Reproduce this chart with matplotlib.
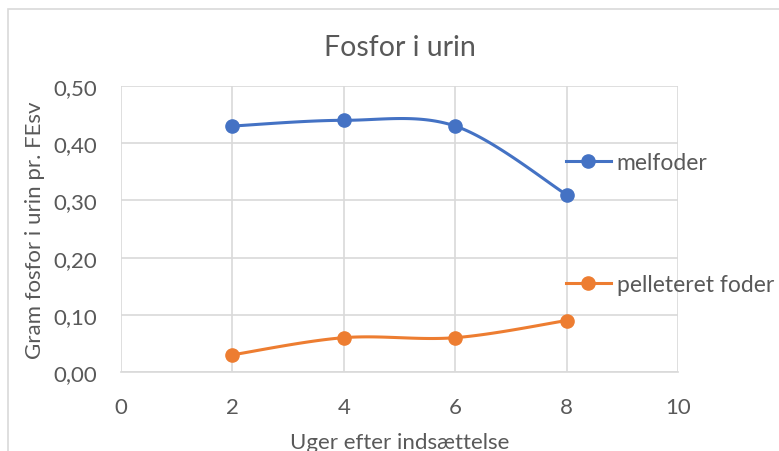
import numpy as np
import matplotlib.pyplot as plt
from matplotlib.patches import Rectangle
from matplotlib.lines import Line2D
from matplotlib.ticker import FuncFormatter

plt.rcParams['font.family'] = ['Lato', 'DejaVu Sans']

uger = [2, 4, 6, 8]
melfoder = [0.43, 0.44, 0.43, 0.31]
pelleteret = [0.03, 0.06, 0.06, 0.09]
serie_navne = ["melfoder", "pelleteret foder"]

blue = "#4472C4"
orange = "#ED7D31"
txt = "#595959"
grid = "#D9D9D9"


def smooth(x, y, n=40):
    # excel-like smoothing (catmull-rom as cubic bezier)
    x = np.asarray(x, float)
    y = np.asarray(y, float)
    px = np.concatenate([[x[0]], x, [x[-1]]])
    py = np.concatenate([[y[0]], y, [y[-1]]])
    xs, ys = [], []
    t = np.linspace(0, 1, n)
    for i in range(1, len(px) - 2):
        p0 = np.array([px[i], py[i]])
        p3 = np.array([px[i + 1], py[i + 1]])
        c1 = p0 + (p3 - np.array([px[i - 1], py[i - 1]])) / 6
        c2 = p3 - (np.array([px[i + 2], py[i + 2]]) - p0) / 6
        b = ((1 - t) ** 3)[:, None] * p0 + (3 * (1 - t) ** 2 * t)[:, None] * c1 \
            + (3 * (1 - t) * t ** 2)[:, None] * c2 + (t ** 3)[:, None] * p3
        xs.extend(b[:, 0])
        ys.extend(b[:, 1])
    return xs, ys


fig = plt.figure(figsize=(7.79, 4.52), dpi=100)
ax = fig.add_axes([121 / 779, 1 - 373 / 452, 557 / 779, 286 / 452])

fig.patches.append(Rectangle((8 / 779, -0.1), 1.2, 1 - 10 / 452 + 0.1,
                             transform=fig.transFigure, fill=False,
                             edgecolor=grid, lw=1.2))

for y, c in [(melfoder, blue), (pelleteret, orange)]:
    sx, sy = smooth(uger, y)
    ax.plot(sx, sy, color=c, lw=2.2, solid_capstyle='round', zorder=3)
    ax.plot(uger, y, 'o', color=c, ms=9.5, zorder=4)

ax.set_xlim(0, 10)
ax.set_ylim(0, 0.5)
ax.set_xticks(range(0, 11, 2))
ax.set_yticks(np.arange(0, 0.51, 0.1))
ax.yaxis.set_major_formatter(FuncFormatter(lambda v, p: f"{v:.2f}".replace(".", ",")))
ax.grid(True, color=grid, lw=1.2)
ax.set_axisbelow(True)
for s in ax.spines.values():
    s.set_visible(False)
ax.spines['bottom'].set_visible(True)
ax.spines['bottom'].set_color(grid)
ax.spines['bottom'].set_linewidth(1.2)
ax.tick_params(length=0, labelsize=16, colors=txt)
ax.tick_params(axis='y', pad=17)
ax.tick_params(axis='x', pad=18)

ax.set_title("Fosfor i urin", fontsize=20.5, color=txt, pad=22)
ax.set_ylabel("Gram fosfor i urin pr. FEsv", fontsize=16, color=txt, labelpad=6)
ax.set_xlabel("Uger efter indsættelse", fontsize=16, color=txt, labelpad=10.5)

handles = [Line2D([], [], color=blue, lw=2.2, marker='o', ms=9.5),
           Line2D([], [], color=orange, lw=2.2, marker='o', ms=9.5)]
ax.legend(handles, serie_navne, loc='upper left', bbox_to_anchor=(566 / 779, 1 - 153 / 452),
          bbox_transform=fig.transFigure, frameon=False, fontsize=16.5,
          labelcolor=txt, handlelength=1.96, handletextpad=0.25, labelspacing=4.4,
          borderaxespad=0, borderpad=0)

fig.savefig("out.png", dpi=100)
